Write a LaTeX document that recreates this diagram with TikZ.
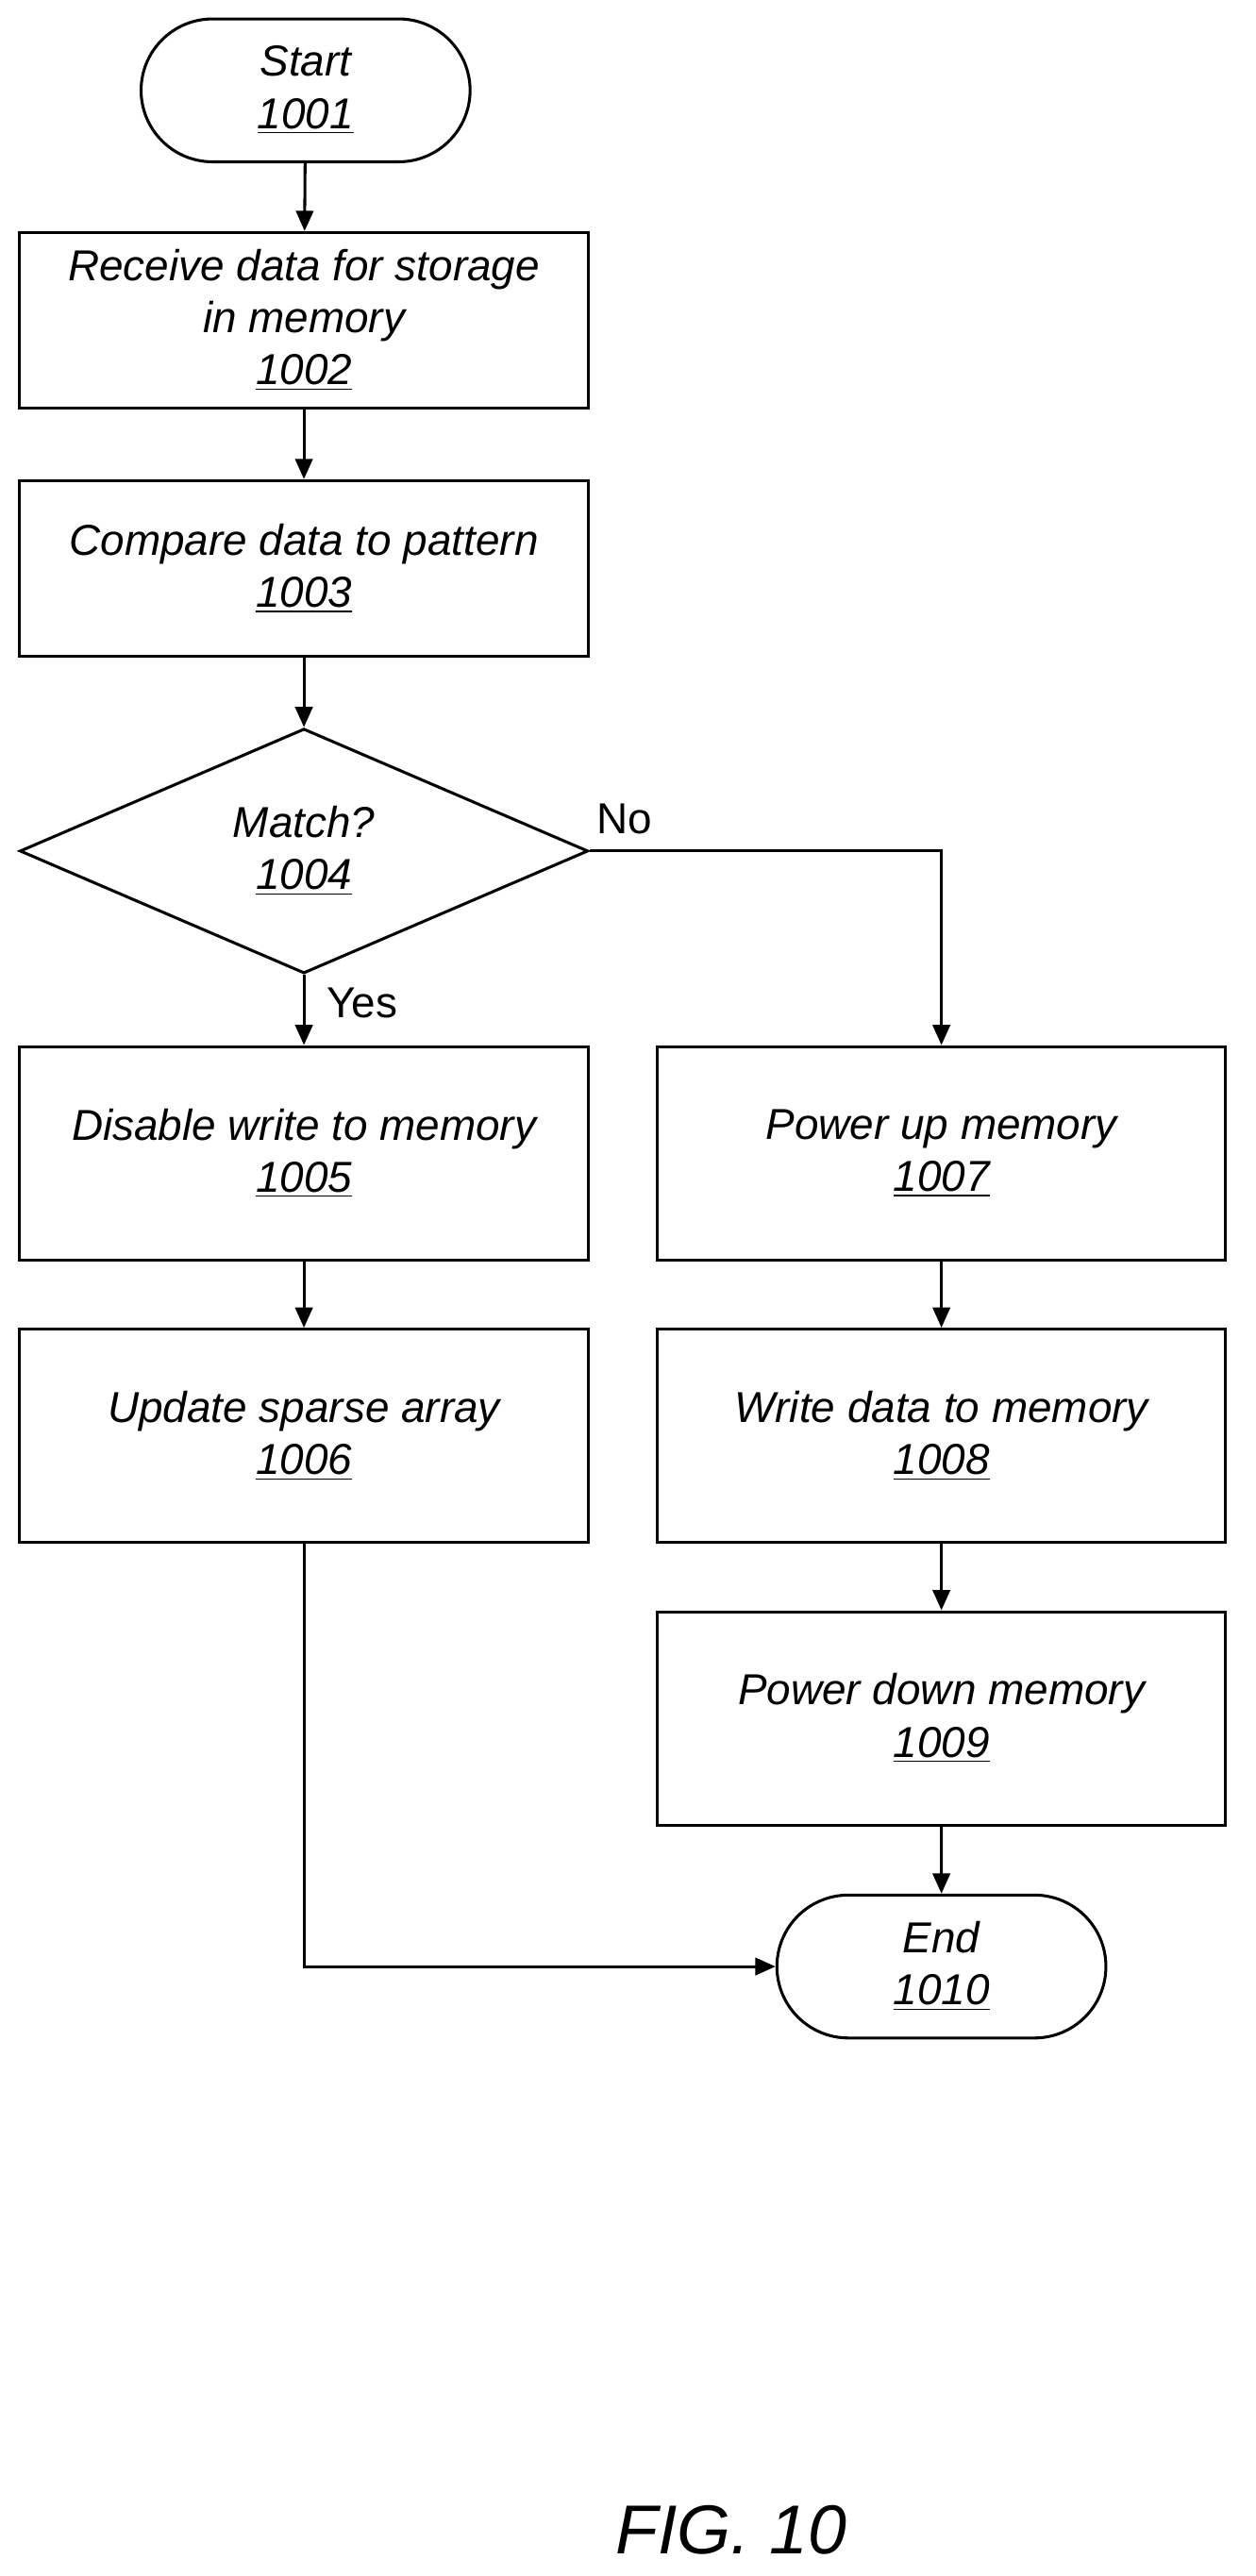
\documentclass[tikz,border=0pt]{standalone}
\usepackage{fontspec}
\setmainfont{Liberation Sans}
\usetikzlibrary{shapes.geometric,arrows.meta}
\tikzset{
  every node/.style={font=\fontsize{15}{18}\selectfont\itshape, align=center},
  box/.style={draw, line width=1pt, minimum width=6.92cm, minimum height=2.14cm},
  tall/.style={box, minimum height=2.6cm},
  term/.style={draw, line width=1pt, rounded rectangle, minimum width=4.24cm, minimum height=1.74cm},
  test/.style={draw, line width=1pt, diamond, aspect=2.32, minimum width=6.92cm, minimum height=2.98cm, inner sep=0pt},
  flow/.style={-{Triangle[length=7pt,width=6pt]}, line width=1pt}
}
\usetikzlibrary{shapes.misc}
\begin{document}
\begin{tikzpicture}[x=0.02cm,y=-0.02cm]
\useasboundingbox (0,0) rectangle (764,1568);
\node[term] (start) at (186,55) {Start\\\underline{1001}};
\node[box] (receive) at (185,195) {Receive data for storage\\in memory\\\underline{1002}};
\node[box] (compare) at (185,346) {Compare data to pattern\\\underline{1003}};
\node[test] (match) at (185,518) {Match?\\\underline{1004}};
\node[tall] (disable) at (185,702) {Disable write to memory\\\underline{1005}};
\node[tall] (update) at (185,874) {Update sparse array\\\underline{1006}};
\node[tall] (powerup) at (573,702) {Power up memory\\\underline{1007}};
\node[tall] (write) at (573,874) {Write data to memory\\\underline{1008}};
\node[tall] (powerdown) at (573,1046) {Power down memory\\\underline{1009}};
\node[term] (end) at (573,1197) {End\\\underline{1010}};
\node[font=\fontsize{24}{28}\selectfont\itshape] (fig) at (445,1540) {FIG. 10};
\draw[flow] (start) -- (receive);
\draw[flow] (receive) -- (compare);
\draw[flow] (compare) -- (match);
\draw[flow] (match) -- node[pos=0.4, right=4pt, font=\fontsize{15}{18}\selectfont] {Yes} (disable);
\draw[flow] (match.east) -- node[pos=0.1, above=2pt, font=\fontsize{15}{18}\selectfont] {No} (match.east -| powerup) -- (powerup);
\draw[flow] (disable) -- (update);
\draw[flow] (powerup) -- (write);
\draw[flow] (write) -- (powerdown);
\draw[flow] (powerdown) -- (end);
\draw[flow] (update) |- (end);
\end{tikzpicture}
\end{document}
